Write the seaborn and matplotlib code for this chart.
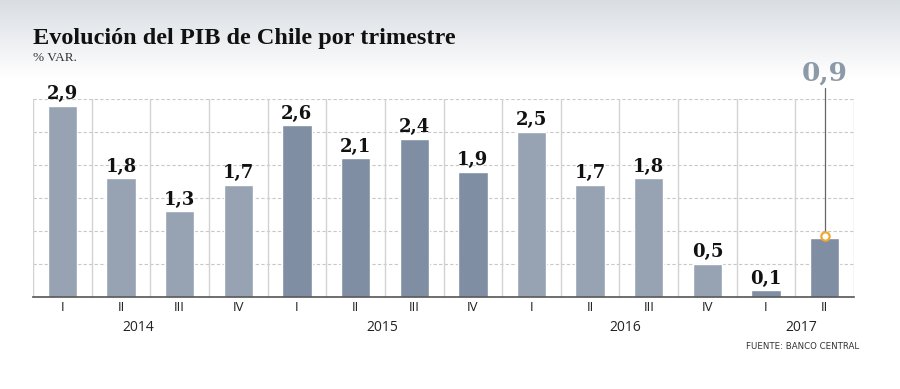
"""Evolución del PIB de Chile por trimestre (% var.)."""

import matplotlib

matplotlib.use("Agg")
import matplotlib.pyplot as plt
import numpy as np
import pandas as pd
import seaborn as sns

# Datos
trimestres = ["I", "II", "III", "IV", "I", "II", "III", "IV",
              "I", "II", "III", "IV", "I", "II"]
anios = ["2014"] * 4 + ["2015"] * 4 + ["2016"] * 4 + ["2017"] * 2
valores = [2.9, 1.8, 1.3, 1.7, 2.6, 2.1, 2.4, 1.9,
           2.5, 1.7, 1.8, 0.5, 0.1, 0.9]
etiquetas_anio = ["2014", "2015", "2016", "2017"]
pos_anio = [1.3, 5.45, 9.6, 12.6]

colores = {"2014": "#97a3b3", "2015": "#7f8ea3",
           "2016": "#97a3b3", "2017": "#7f8ea3"}

df = pd.DataFrame({"TRIM": trimestres, "ANIO": anios, "VALOR": valores})
df["CLAVE"] = df["ANIO"] + "-" + df["TRIM"]

sns.set_theme(style="white")
plt.rcParams["font.family"] = ["DejaVu Sans"]

fig = plt.figure(figsize=(9, 3.89), dpi=100)

# fondo degradado de la cabecera
bg = fig.add_axes([0, 0, 1, 1], zorder=-10)
grad = np.ones((389, 2, 3))
tono = np.linspace(0, 1, 78)
top = np.array([0.85, 0.87, 0.89])
for i, t in enumerate(tono):
    grad[i] = top + (1 - top) * t
bg.imshow(grad, aspect="auto", extent=[0, 1, 0, 1])
bg.axis("off")

ax = fig.add_axes([0.0367, 0.2365, 0.9122, 0.509])
ax.set_facecolor("none")

sns.barplot(
    data=df,
    x="CLAVE",
    y="VALOR",
    hue="ANIO",
    palette=colores,
    saturation=1,
    width=0.5,
    legend=False,
    ax=ax,
    zorder=3,
)

n = len(valores)
ax.set_xlim(-0.5, n - 0.5)
ax.set_ylim(0, 3.0)

# rejilla
for yv in np.arange(0.5, 3.01, 0.5):
    ax.axhline(yv, color="#c8c8c8", linewidth=0.8, linestyle=(0, (3, 2)),
               zorder=1)
for xv in np.arange(-0.5, n, 1.0):
    ax.axvline(xv, color="#d2d2d2", linewidth=1.0, zorder=1)

for s in ["top", "right", "left"]:
    ax.spines[s].set_visible(False)
ax.spines["bottom"].set_color("#555555")
ax.spines["bottom"].set_linewidth(1.2)
ax.spines["bottom"].set_zorder(5)

ax.set_yticks([])
ax.set_xticks(range(n))
ax.set_xticklabels(trimestres, family=["Open Sans", "DejaVu Sans"],
                   fontsize=9.5, color="#222222")
ax.tick_params(axis="x", length=0, pad=3)
ax.set_xlabel("")
ax.set_ylabel("")

for xa, lab in zip(pos_anio, etiquetas_anio):
    ax.text(xa, -0.153, lab, transform=ax.get_xaxis_transform(),
            ha="center", va="center", fontsize=10,
            family=["Open Sans", "DejaVu Sans"], color="#222222")

# etiquetas de valores
for i, v in enumerate(valores[:-1]):
    ax.text(i, v + 0.04, f"{v:.1f}".replace(".", ","), ha="center",
            va="bottom", fontsize=13, fontweight="bold",
            family="DejaVu Serif", color="#111111", zorder=6)

# destacado último trimestre
ult = n - 1
ax.plot([ult, ult], [valores[-1], 3.16], color="#666666", linewidth=0.9,
        clip_on=False, zorder=6)
ax.plot(ult, valores[-1] + 0.02, marker="o", markersize=6,
        markerfacecolor="white", markeredgecolor="#f0a830",
        markeredgewidth=1.6, clip_on=False, zorder=7)
ax.text(ult, 3.2, f"{valores[-1]:.1f}".replace(".", ","), ha="center",
        va="bottom", fontsize=19, fontweight="bold", family="DejaVu Serif",
        color="#8c99a6", clip_on=False)

# títulos
fig.text(0.0367, 0.902, "Evolución del PIB de Chile por trimestre",
         fontsize=17.5, fontweight="bold", family="Liberation Serif",
         color="#111111", va="center", ha="left")
fig.text(0.0367, 0.852, "% VAR.", fontsize=9.5, family="Liberation Serif",
         color="#333333", va="center", ha="left")
fig.text(0.955, 0.108, "FUENTE: BANCO CENTRAL", fontsize=6.2,
         family="DejaVu Sans", color="#333333", va="center", ha="right")

fig.savefig("out.png", dpi=100)
